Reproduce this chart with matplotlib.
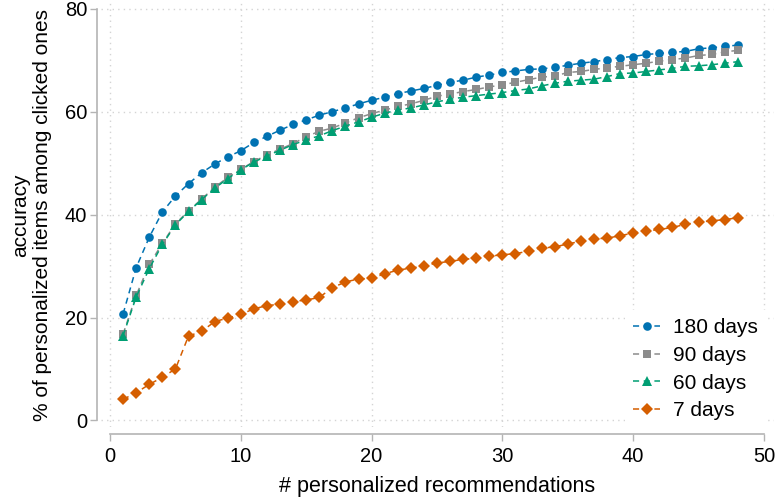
import numpy as np
import matplotlib
matplotlib.use("Agg")
import matplotlib.pyplot as plt

plt.rcParams['font.family'] = ['Liberation Sans', 'DejaVu Sans']

n_recs = list(range(1, 49))

acc_180 = [20.7, 29.7, 35.6, 40.5, 43.6, 46.0, 48.1, 49.8, 51.2, 52.4,
           54.0, 55.2, 56.4, 57.5, 58.4, 59.3, 60.0, 60.7, 61.5, 62.2,
           62.8, 63.5, 64.0, 64.5, 65.1, 65.7, 66.1, 66.7, 67.1, 67.6,
           67.9, 68.2, 68.3, 68.6, 69.0, 69.4, 69.7, 70.1, 70.5, 70.7,
           71.1, 71.3, 71.5, 71.7, 72.2, 72.4, 72.7, 72.9]
acc_90 = [16.8, 24.3, 30.3, 34.4, 38.2, 40.7, 43.0, 45.3, 47.2, 48.8,
          50.3, 51.6, 52.7, 53.8, 55.1, 56.2, 56.8, 57.8, 58.8, 59.6,
          60.3, 61.0, 61.5, 62.2, 63.0, 63.4, 63.9, 64.3, 64.8, 65.2,
          65.7, 66.2, 66.7, 66.9, 67.6, 67.8, 68.2, 68.5, 68.8, 69.1,
          69.4, 69.8, 70.1, 70.4, 70.9, 71.1, 71.6, 71.9]
acc_60 = [16.5, 24.0, 29.5, 34.2, 38.0, 40.6, 42.9, 45.1, 47.0, 48.7,
          50.2, 51.4, 52.5, 53.6, 54.5, 55.3, 56.3, 57.2, 58.0, 58.9,
          59.7, 60.3, 60.7, 61.3, 61.9, 62.4, 62.8, 63.1, 63.4, 63.7,
          64.1, 64.4, 65.0, 65.5, 65.9, 66.1, 66.3, 66.8, 67.4, 67.5,
          67.8, 68.1, 68.4, 68.8, 68.9, 69.1, 69.4, 69.7]
acc_7 = [4.1, 5.4, 7.0, 8.4, 10.0, 16.4, 17.3, 19.2, 19.9, 20.6,
         21.7, 22.3, 22.6, 23.1, 23.4, 23.9, 25.8, 26.9, 27.5, 27.6,
         28.5, 29.2, 29.6, 30.0, 30.6, 30.9, 31.3, 31.5, 31.9, 32.2,
         32.4, 32.9, 33.5, 33.7, 34.3, 34.8, 35.3, 35.4, 35.9, 36.4,
         36.8, 37.1, 37.5, 38.1, 38.5, 38.8, 39.0, 39.4]

labels = ["180 days", "90 days", "60 days", "7 days"]
series = [acc_180, acc_90, acc_60, acc_7]
colors = ["#0072B2", "#8C8C8C", "#009E73", "#D55E00"]
markers = ["o", "s", "^", "D"]
msizes = [6.2, 5.6, 6.6, 6.4]

fig = plt.figure(figsize=(7.77, 4.99), dpi=100)
ax = fig.add_axes([0.130, 0.145, 0.866, 0.849])

for y, lab, c, m, ms in zip(series, labels, colors, markers, msizes):
    ax.plot(n_recs, y, color=c, marker=m, markersize=ms, linestyle=(0, (4, 3)),
            linewidth=1.1, label=lab, markeredgewidth=0)

ax.set_xlim(-0.69, 50.76)
ax.set_ylim(-1.2, 81.1)
ax.set_xticks([0, 10, 20, 30, 40, 50])
ax.set_yticks([0, 20, 40, 60, 80])
ax.grid(True, color="#d4d4d4", linestyle=(0, (1, 3)), linewidth=1.0)
ax.set_axisbelow(True)

for s in ["top", "right"]:
    ax.spines[s].set_visible(False)
ax.spines["left"].set_position(("outward", 3))
ax.spines["bottom"].set_position(("outward", 5))
ax.spines["left"].set_bounds(0, 80)
ax.spines["bottom"].set_bounds(0, 50)
for s in ["left", "bottom"]:
    ax.spines[s].set_color("#b4b4b4")
    ax.spines[s].set_linewidth(1.2)
ax.tick_params(axis="both", colors="#b4b4b4", length=5, width=1.0,
               labelcolor="black", labelsize=14.5)
ax.tick_params(axis="y", pad=2)
ax.tick_params(axis="x", pad=5)

ax.set_xlabel("# personalized recommendations", fontsize=15.5, labelpad=7)
ax.set_ylabel("accuracy\n% of personalized items among clicked ones",
              fontsize=15, labelpad=9, linespacing=1.2)

leg = ax.legend(loc="lower right", bbox_to_anchor=(0.988, -0.005),
                fontsize=15, frameon=True, fancybox=False,
                edgecolor="none", facecolor="white", framealpha=1,
                handlelength=1.3, handletextpad=0.6, labelspacing=0.42,
                borderaxespad=0.0)

fig.savefig("out.png", dpi=100)
